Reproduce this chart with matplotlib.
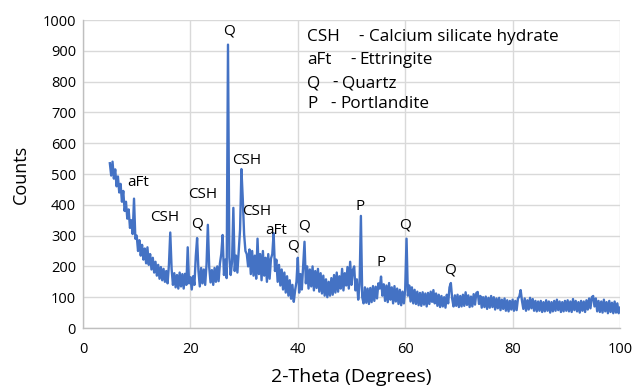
import numpy as np
import matplotlib
matplotlib.use("Agg")
import matplotlib.pyplot as plt

plt.rcParams['font.family'] = ['Open Sans', 'DejaVu Sans']

# 2-theta grid start / step (degrees)
theta_start = 5.0
theta_step = 0.25

counts = [
    # 5.00 - 9.75
    535, 495, 540, 485, 515, 460, 492, 440, 468, 410, 445, 380, 410, 355, 385, 325, 350, 305, 420, 290,
    # 10.00 - 14.75
    300, 250, 285, 235, 270, 222, 258, 210, 262, 205, 240, 190, 228, 180, 215, 170, 205, 160, 198, 155,
    # 15.00 - 19.75
    192, 150, 185, 145, 205, 310, 192, 140, 178, 132, 172, 128, 180, 135, 175, 128, 176, 140, 262, 145,
    # 20.00 - 24.75
    165, 125, 168, 140, 232, 292, 185, 135, 195, 145, 190, 140, 205, 335, 198, 148, 188, 140, 195, 150,
    # 25.00 - 29.75
    200, 152, 210, 240, 302, 172, 222, 162, 920, 230, 172, 215, 390, 185, 235, 180, 250, 320, 516, 420,
    # 30.00 - 34.75
    305, 250, 240, 200, 255, 175, 250, 170, 235, 160, 290, 175, 240, 155, 250, 170, 228, 150, 240, 160,
    # 35.00 - 39.75
    225, 240, 308, 185, 222, 150, 205, 138, 190, 125, 180, 115, 168, 105, 155, 95, 140, 85, 122, 150,
    # 40.00 - 44.75
    228, 115, 175, 125, 205, 280, 145, 200, 128, 190, 135, 200, 122, 185, 130, 192, 118, 178, 112, 170,
    # 45.00 - 49.75
    105, 158, 100, 150, 105, 162, 108, 172, 115, 180, 118, 168, 128, 192, 122, 178, 138, 198, 128, 215,
    # 50.00 - 54.75
    140, 188, 200, 122, 158, 92, 140, 364, 100, 80, 132, 82, 128, 78, 130, 84, 136, 88, 134, 96,
    # 55.00 - 59.75
    145, 128, 167, 105, 142, 88, 138, 84, 146, 92, 132, 80, 136, 86, 128, 78, 124, 74, 118, 80,
    # 60.00 - 64.75
    125, 290, 105, 138, 86, 132, 80, 124, 78, 118, 74, 114, 72, 116, 76, 112, 70, 114, 78, 118,
    # 65.00 - 69.75
    85, 123, 80, 112, 72, 108, 68, 104, 70, 100, 66, 108, 80, 132, 146, 95, 70, 106, 72, 108,
    # 70.00 - 74.75
    68, 104, 70, 108, 72, 116, 75, 106, 68, 102, 70, 110, 76, 114, 117, 78, 104, 66, 100, 68,
    # 75.00 - 79.75
    102, 62, 98, 66, 104, 68, 100, 60, 96, 64, 98, 58, 92, 62, 96, 56, 90, 54, 88, 60,
    # 80.00 - 84.75
    92, 56, 88, 58, 96, 102, 123, 88, 62, 96, 56, 90, 60, 98, 64, 94, 56, 88, 54, 86,
    # 85.00 - 89.75
    56, 88, 52, 84, 54, 90, 56, 86, 50, 84, 54, 88, 56, 92, 58, 86, 52, 84, 54, 88,
    # 90.00 - 94.75
    56, 90, 54, 86, 52, 94, 58, 88, 54, 84, 50, 88, 56, 86, 52, 90, 60, 96, 64, 100,
    # 95.00 - 99.75
    104, 70, 96, 54, 88, 52, 86, 50, 92, 54, 84, 48, 88, 52, 82, 48, 86, 50, 80, 48,
    # 100.00
    66,
]
two_theta = theta_start + theta_step * np.arange(len(counts))

# phase labels: (text, 2-theta, counts)
peak_labels = ["aFt", "CSH", "CSH", "Q", "Q", "CSH", "CSH", "aFt", "Q", "Q", "P", "P", "Q", "Q"]
peak_x = [10.2, 15.3, 22.2, 21.2, 27.2, 30.4, 32.4, 35.9, 39.1, 41.2, 51.6, 55.5, 60.0, 68.3]
peak_y = [474, 360, 432, 338, 964, 545, 377, 315, 266, 331, 396, 214, 334, 188]

legend_abbr = ["CSH", "aFt", "Q", "P"]
legend_desc = ["Calcium silicate hydrate", "Ettringite", "Quartz", "Portlandite"]

x_ticks = [0, 20, 40, 60, 80, 100]
y_ticks = list(range(0, 1001, 100))

fig = plt.figure(figsize=(6.33, 3.88), dpi=100)
ax = fig.add_axes([83/633, 60/388, 537/633, 308/388])

ax.plot(two_theta, counts, color="#4472C4", lw=1.7, zorder=3)

ax.set_xlim(0, 100)
ax.set_ylim(0, 1000)
ax.set_xticks(x_ticks)
ax.set_yticks(y_ticks)
ax.grid(True, color="#D9D9D9", lw=1.0, zorder=0)
ax.set_axisbelow(True)
for s in ["top", "right"]:
    ax.spines[s].set_visible(False)
for s in ["left", "bottom"]:
    ax.spines[s].set_color("#BFBFBF")
    ax.spines[s].set_linewidth(1.0)
ax.tick_params(length=0, labelsize=10.5, colors="#000000")
ax.tick_params(axis="x", pad=10)
ax.tick_params(axis="y", pad=5)

ax.set_xlabel("2-Theta (Degrees)", fontsize=14, labelpad=8)
ax.set_ylabel("Counts", fontsize=13, labelpad=9)

for t, x, y in zip(peak_labels, peak_x, peak_y):
    ax.text(x, y, t, fontsize=11, ha="center", va="center", zorder=4)

# legend text block (axes fraction positions)
row_y = [0.945, 0.870, 0.795, 0.727]
dash_x = [0.512, 0.498, 0.465, 0.461]
desc_x = [0.533, 0.515, 0.483, 0.479]
for i in range(4):
    ax.text(0.417, row_y[i], legend_abbr[i], transform=ax.transAxes, fontsize=12.3, ha="left", va="center")
    ax.text(dash_x[i], row_y[i], "-", transform=ax.transAxes, fontsize=12.3, ha="left", va="center")
    ax.text(desc_x[i], row_y[i], legend_desc[i], transform=ax.transAxes, fontsize=12.3, ha="left", va="center")

fig.savefig("out.png", dpi=100)
